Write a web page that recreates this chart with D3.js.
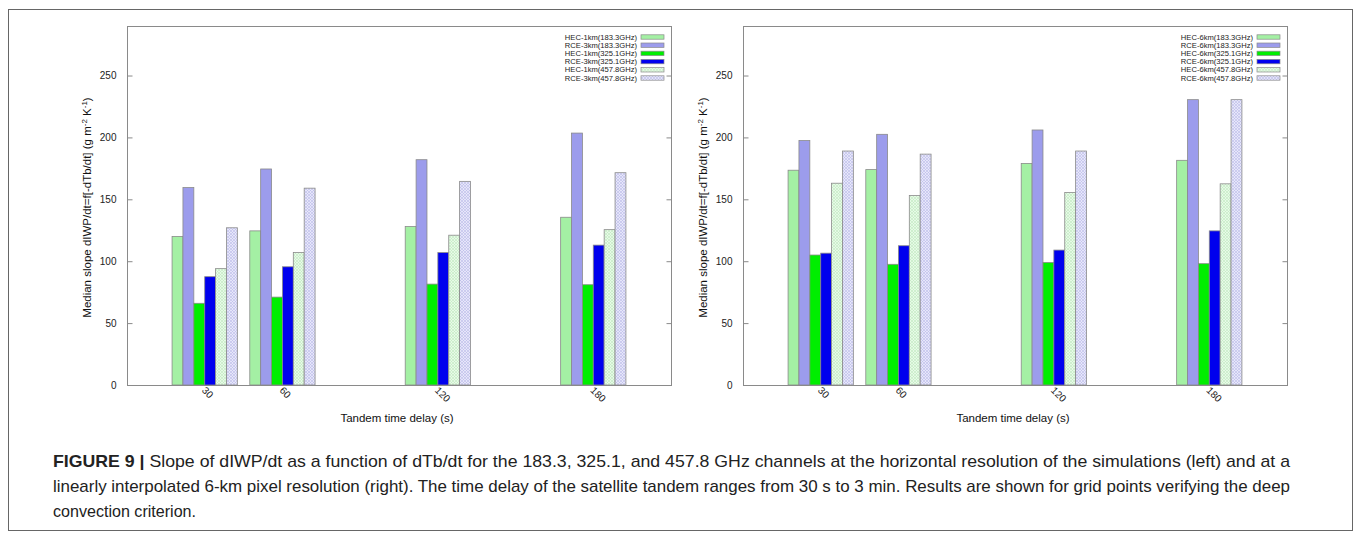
<!DOCTYPE html>
<html>
<head>
<meta charset="utf-8">
<script src="https://cdn.jsdelivr.net/npm/d3@7"></script>
<style>
  html, body { margin: 0; padding: 0; background: #fff; }
  svg { display: block; font-family: "Liberation Sans", Arial, sans-serif; }
</style>
</head>
<body>
<svg id="fig" width="1356" height="538"></svg>
<script>
// Tandem time delays (s) and y ticks
const delays = [30, 60, 120, 180];
const yTicks = [0, 50, 100, 150, 200, 250];

// Left panel: simulation resolution
const leftSeries = [
  "HEC-1km(183.3GHz)", "RCE-3km(183.3GHz)", "HEC-1km(325.1GHz)",
  "RCE-3km(325.1GHz)", "HEC-1km(457.8GHz)", "RCE-3km(457.8GHz)"
];
const leftValues = [
  [120, 124.5, 128, 135.5],
  [159.5, 174.5, 182, 203.5],
  [66, 71, 81.5, 81],
  [87.5, 95.5, 107, 113],
  [94, 107, 121, 125.5],
  [127, 159, 164.5, 171.5]
];

// Right panel: 6-km pixel resolution
const rightSeries = [
  "HEC-6km(183.3GHz)", "RCE-6km(183.3GHz)", "HEC-6km(325.1GHz)",
  "RCE-6km(325.1GHz)", "HEC-6km(457.8GHz)", "RCE-6km(457.8GHz)"
];
const rightValues = [
  [173.5, 174, 179, 181.5],
  [197.5, 202.5, 206, 230.5],
  [105, 97.5, 99, 98],
  [106.5, 112.5, 109, 124.5],
  [163, 153, 155.5, 162.5],
  [189, 186.5, 189, 230.5]
];

const captionLines = [
  "Slope of dIWP/dt as a function of dTb/dt for the 183.3, 325.1, and 457.8 GHz channels at the horizontal resolution of the simulations (left) and at a",
  "linearly interpolated 6-km pixel resolution (right). The time delay of the satellite tandem ranges from 30 s to 3 min. Results are shown for grid points verifying the deep",
  "convection criterion."
];

const fills = ["#a4f0a4", "#9c9cec", "#00ee00", "#0000ee", "url(#hatchGreen)", "url(#hatchBlue)"];

const svg = d3.select("#fig");

// hatch patterns for the 457.8 GHz bars
const defs = svg.append("defs");
const makeHatch = (id, bg, fg) => {
  const p = defs.append("pattern")
    .attr("id", id)
    .attr("width", 3).attr("height", 3)
    .attr("patternUnits", "userSpaceOnUse");
  p.append("rect").attr("width", 3).attr("height", 3).attr("fill", bg);
  p.append("path").attr("d", "M0,3 L3,0 M0,0 L3,3")
    .attr("stroke", fg).attr("stroke-width", 0.6);
};
makeHatch("hatchGreen", "#e6fae6", "#bfe8bf");
makeHatch("hatchBlue", "#e6e6fa", "#babae8");

// outer figure frame
svg.append("rect")
  .attr("x", 8.5).attr("y", 9.5)
  .attr("width", 1344).attr("height", 521)
  .attr("fill", "none").attr("stroke", "#666").attr("stroke-width", 1);

const createPanel = (left, series, values) => {
  const top = 26, bottom = 385, width = 544;

  const xScale = d3.scaleLinear().domain([0, 210]).range([left, left + width]);
  const yScale = d3.scaleLinear().domain([0, 290]).range([bottom, top]);
  const barW = 4.2;

  const g = svg.append("g");

  // bars
  series.forEach((name, si) => {
    g.selectAll(null)
      .data(values[si])
      .join("rect")
      .attr("x", (d, i) => xScale(delays[i] + (si - 3) * barW))
      .attr("width", xScale(barW) - xScale(0))
      .attr("y", (d) => yScale(d))
      .attr("height", (d) => yScale(0) - yScale(d))
      .attr("fill", fills[si])
      .attr("stroke", "#8a8a8a")
      .attr("stroke-width", 0.8);
  });

  // frame
  g.append("rect")
    .attr("x", left + 0.5).attr("y", top + 0.5)
    .attr("width", width).attr("height", bottom - top)
    .attr("fill", "none").attr("stroke", "#8a8a8a");

  // y axis (ticks inward)
  const yAxis = d3.axisLeft(yScale).tickValues(yTicks).tickSize(-5).tickPadding(11);
  g.append("g")
    .attr("transform", `translate(${left + 0.5},0)`)
    .call(yAxis)
    .call((a) => a.select(".domain").remove())
    .call((a) => a.selectAll("line").attr("stroke", "#8a8a8a"))
    .call((a) => a.selectAll("text").attr("font-size", 10).attr("fill", "#222")
      .attr("font-family", "Liberation Sans, Arial, sans-serif"));

  // mirror ticks on the right
  g.append("g")
    .attr("transform", `translate(${left + width + 0.5},0)`)
    .call(d3.axisRight(yScale).tickValues(yTicks).tickSize(-5).tickFormat(""))
    .call((a) => a.select(".domain").remove())
    .call((a) => a.selectAll("line").attr("stroke", "#8a8a8a"));

  // x tick labels, rotated
  const xAxis = d3.axisBottom(xScale).tickValues(delays).tickSize(0).tickPadding(0);
  g.append("g")
    .attr("transform", `translate(0,${bottom})`)
    .call(xAxis)
    .call((a) => a.select(".domain").remove())
    .call((a) => a.selectAll("text")
      .attr("font-size", 10).attr("fill", "#222")
      .attr("font-family", "Liberation Sans, Arial, sans-serif")
      .attr("text-anchor", "start")
      .attr("dy", 0)
      .attr("transform", "translate(-4,6) rotate(45)"));

  // axis titles
  g.append("text")
    .attr("x", left + width / 2 - 2).attr("y", 422)
    .attr("text-anchor", "middle").attr("font-size", 11.5).attr("fill", "#111")
    .text("Tandem time delay (s)");

  const yl = g.append("text")
    .attr("transform", `translate(${left - 36},${(top + bottom) / 2 + 2}) rotate(-90)`)
    .attr("text-anchor", "middle").attr("font-size", 11.5).attr("fill", "#111");
  yl.append("tspan").text("Median slope dIWP/dt=f[-dTb/dt] (g m");
  yl.append("tspan").attr("baseline-shift", "super").attr("font-size", 8).text("-2");
  yl.append("tspan").text(" K");
  yl.append("tspan").attr("baseline-shift", "super").attr("font-size", 8).text("-1");
  yl.append("tspan").text(")");

  // legend
  const legendRight = left + width;
  const leg = g.selectAll(".leg")
    .data(series)
    .join("g")
    .attr("transform", (d, i) => `translate(0,${37 + i * 8.2})`);
  leg.append("text")
    .attr("x", legendRight - 34).attr("dy", "0.35em")
    .attr("text-anchor", "end").attr("font-size", 7.6).attr("fill", "#222")
    .text((d) => d);
  leg.append("rect")
    .attr("x", legendRight - 30).attr("y", -2.2)
    .attr("width", 23).attr("height", 4.4)
    .attr("fill", (d, i) => fills[i])
    .attr("stroke", "#8a8a8a").attr("stroke-width", 0.7);
};

createPanel(127, leftSeries, leftValues);
createPanel(743, rightSeries, rightValues);

// caption
const cap = svg.append("g")
  .attr("font-family", "'Liberation Sans Narrow', 'Liberation Sans', Arial, sans-serif")
  .attr("font-size", 17).attr("fill", "#222");
const first = cap.append("text").attr("x", 53).attr("y", 467)
  .attr("textLength", 1237).attr("lengthAdjust", "spacingAndGlyphs");
first.append("tspan").attr("font-weight", "bold").text("FIGURE 9 | ");
first.append("tspan").text(captionLines[0]);
cap.append("text").attr("x", 53).attr("y", 492)
  .attr("textLength", 1237).attr("lengthAdjust", "spacingAndGlyphs")
  .text(captionLines[1]);
cap.append("text").attr("x", 53).attr("y", 517)
  .attr("textLength", 143).attr("lengthAdjust", "spacingAndGlyphs")
  .text(captionLines[2]);
</script>
</body>
</html>
